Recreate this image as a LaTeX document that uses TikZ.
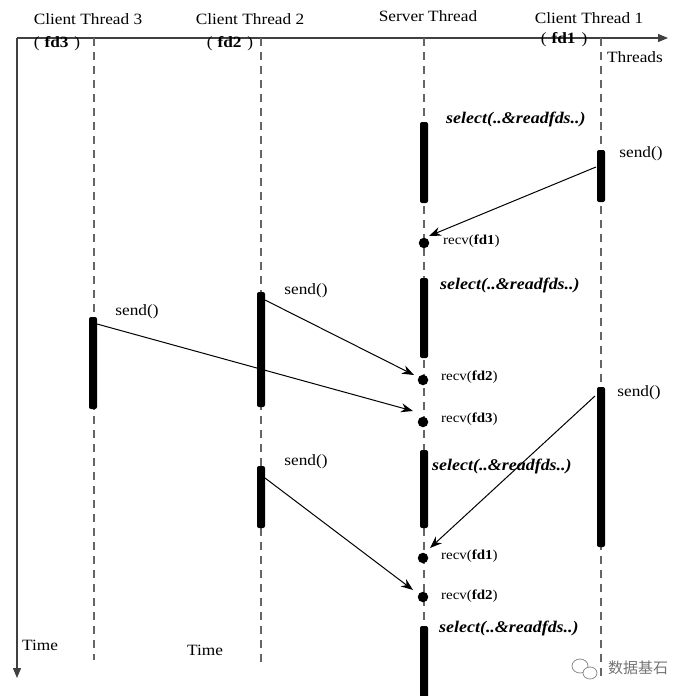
\documentclass[tikz,border=0pt]{standalone}
\usepackage{fontspec}
\setmainfont{Liberation Serif}[FakeStretch=1.1]
\newfontfamily\cjk{Noto Sans CJK SC}
\usetikzlibrary{arrows.meta}
\begin{document}
\begin{tikzpicture}[x=1pt,y=-1pt,
 lifeline/.style={draw=black!60, dash pattern=on 8pt off 6pt, line width=1.3pt},
 axis/.style={draw=black!75, line width=1.2pt, -{Triangle[length=10pt,width=8pt]}},
 actbar/.style={fill=black, rounded corners=2pt},
 msg/.style={draw=black, line width=1pt, -{Stealth[length=12pt,width=9pt]}},
 dotmark/.style={circle, fill=black, inner sep=0pt, minimum size=10.5pt},
 lbl/.style={font=\fontsize{15.7}{18}\selectfont, inner sep=0pt},
 rlbl/.style={font=\fontsize{13.6}{15}\selectfont, inner sep=0pt, anchor=west},
 sel/.style={font=\fontsize{16.3}{18}\selectfont\bfseries\itshape, inner sep=0pt, anchor=west},
]
\useasboundingbox (0,0) rectangle (689,696);

% axes
\coordinate (o) at (17,38);
\coordinate (xend) at (668,38);
\coordinate (yend) at (17,678);
\draw[axis] (o) -- (xend);
\draw[axis] (o) -- (yend);
\node[lbl] (threads) at (635,57) {Threads};
\node[lbl] (time1) at (40,645) {Time};
\node[lbl] (time2) at (205,650) {Time};

% headers
\node[lbl] (h3) at (88,19) {Client Thread 3};
\node[lbl] (f3) at (57,44) {(\hspace{5pt}\textbf{fd3}\hspace{6pt})};
\node[lbl] (h2) at (250,19) {Client Thread 2};
\node[lbl] (f2) at (230,44) {(\hspace{5pt}\textbf{fd2}\hspace{6pt})};
\node[lbl] (hs) at (428,16) {Server Thread};
\node[lbl] (h1) at (589,18) {Client Thread 1};
\node[lbl] (f1) at (564,40) {(\hspace{5pt}\textbf{fd1}\hspace{6pt})};

% lifelines
\coordinate (l3a) at (94,38);  \coordinate (l3b) at (94,660);
\coordinate (l2a) at (261,38); \coordinate (l2b) at (261,665);
\coordinate (lsa) at (424,38); \coordinate (lsb) at (424,696);
\coordinate (l1a) at (601,38); \coordinate (l1b) at (601,676);
\draw[lifeline] (l3a) -- (l3b);
\draw[lifeline] (l2a) -- (l2b);
\draw[lifeline] (lsa) -- (lsb);
\draw[lifeline] (l1a) -- (l1b);

% activation bars
\fill[actbar] (420,122) rectangle (428,203);
\fill[actbar] (420,278) rectangle (428,358);
\fill[actbar] (420,450) rectangle (428,528);
\fill[actbar] (420,626) rectangle (428,700);
\fill[actbar] (597,150) rectangle (605,202);
\fill[actbar] (597,387) rectangle (605,547);
\fill[actbar] (257,292) rectangle (265,407);
\fill[actbar] (257,466) rectangle (265,528);
\fill[actbar] (89,317) rectangle (97,409);

% select labels
\node[sel] (sel1) at (446,119) {select(..\&readfds..)};
\node[sel] (sel2) at (440,285) {select(..\&readfds..)};
\node[sel] (sel3) at (432,466) {select(..\&readfds..)};
\node[sel] (sel4) at (439,628) {select(..\&readfds..)};

% send labels
\node[lbl] (snd1) at (641,154) {send()};
\node[lbl] (snd2) at (306,291) {send()};
\node[lbl] (snd3) at (137,312) {send()};
\node[lbl] (snd4) at (306,462) {send()};
\node[lbl] (snd5) at (639,393) {send()};

% recv dots and labels
\node[dotmark] (r1) at (424,243) {};
\node[dotmark] (r2) at (423,380) {};
\node[dotmark] (r3) at (423,422) {};
\node[dotmark] (r4) at (423,558) {};
\node[dotmark] (r5) at (423,597) {};
\node[rlbl] (rl1) at (443,241) {recv(\textbf{fd1})};
\node[rlbl] (rl2) at (441,377) {recv(\textbf{fd2})};
\node[rlbl] (rl3) at (441,419) {recv(\textbf{fd3})};
\node[rlbl] (rl4) at (441,556) {recv(\textbf{fd1})};
\node[rlbl] (rl5) at (441,596) {recv(\textbf{fd2})};

% message arrows
\coordinate (m1s) at (596,167); \coordinate (m1e) at (429,236);
\coordinate (m2s) at (265,300); \coordinate (m2e) at (414,375);
\coordinate (m3s) at (97,324);  \coordinate (m3e) at (413,411);
\coordinate (m4s) at (595,396); \coordinate (m4e) at (430,548);
\coordinate (m5s) at (265,478); \coordinate (m5e) at (413,590);
\draw[msg] (m1s) -- (m1e);
\draw[msg] (m2s) -- (m2e);
\draw[msg] (m3s) -- (m3e);
\draw[msg] (m4s) -- (m4e);
\draw[msg] (m5s) -- (m5e);

% watermark
\draw[black!45, line width=0.8pt] (580,666) ellipse (8pt and 7pt);
\draw[black!45, line width=0.8pt, fill=white] (590,673) ellipse (7pt and 6pt);
\node[font=\cjk\fontsize{15}{17}\selectfont, text=black!55, inner sep=0pt] (wm) at (638,668) {数据基石};
\end{tikzpicture}
\end{document}
